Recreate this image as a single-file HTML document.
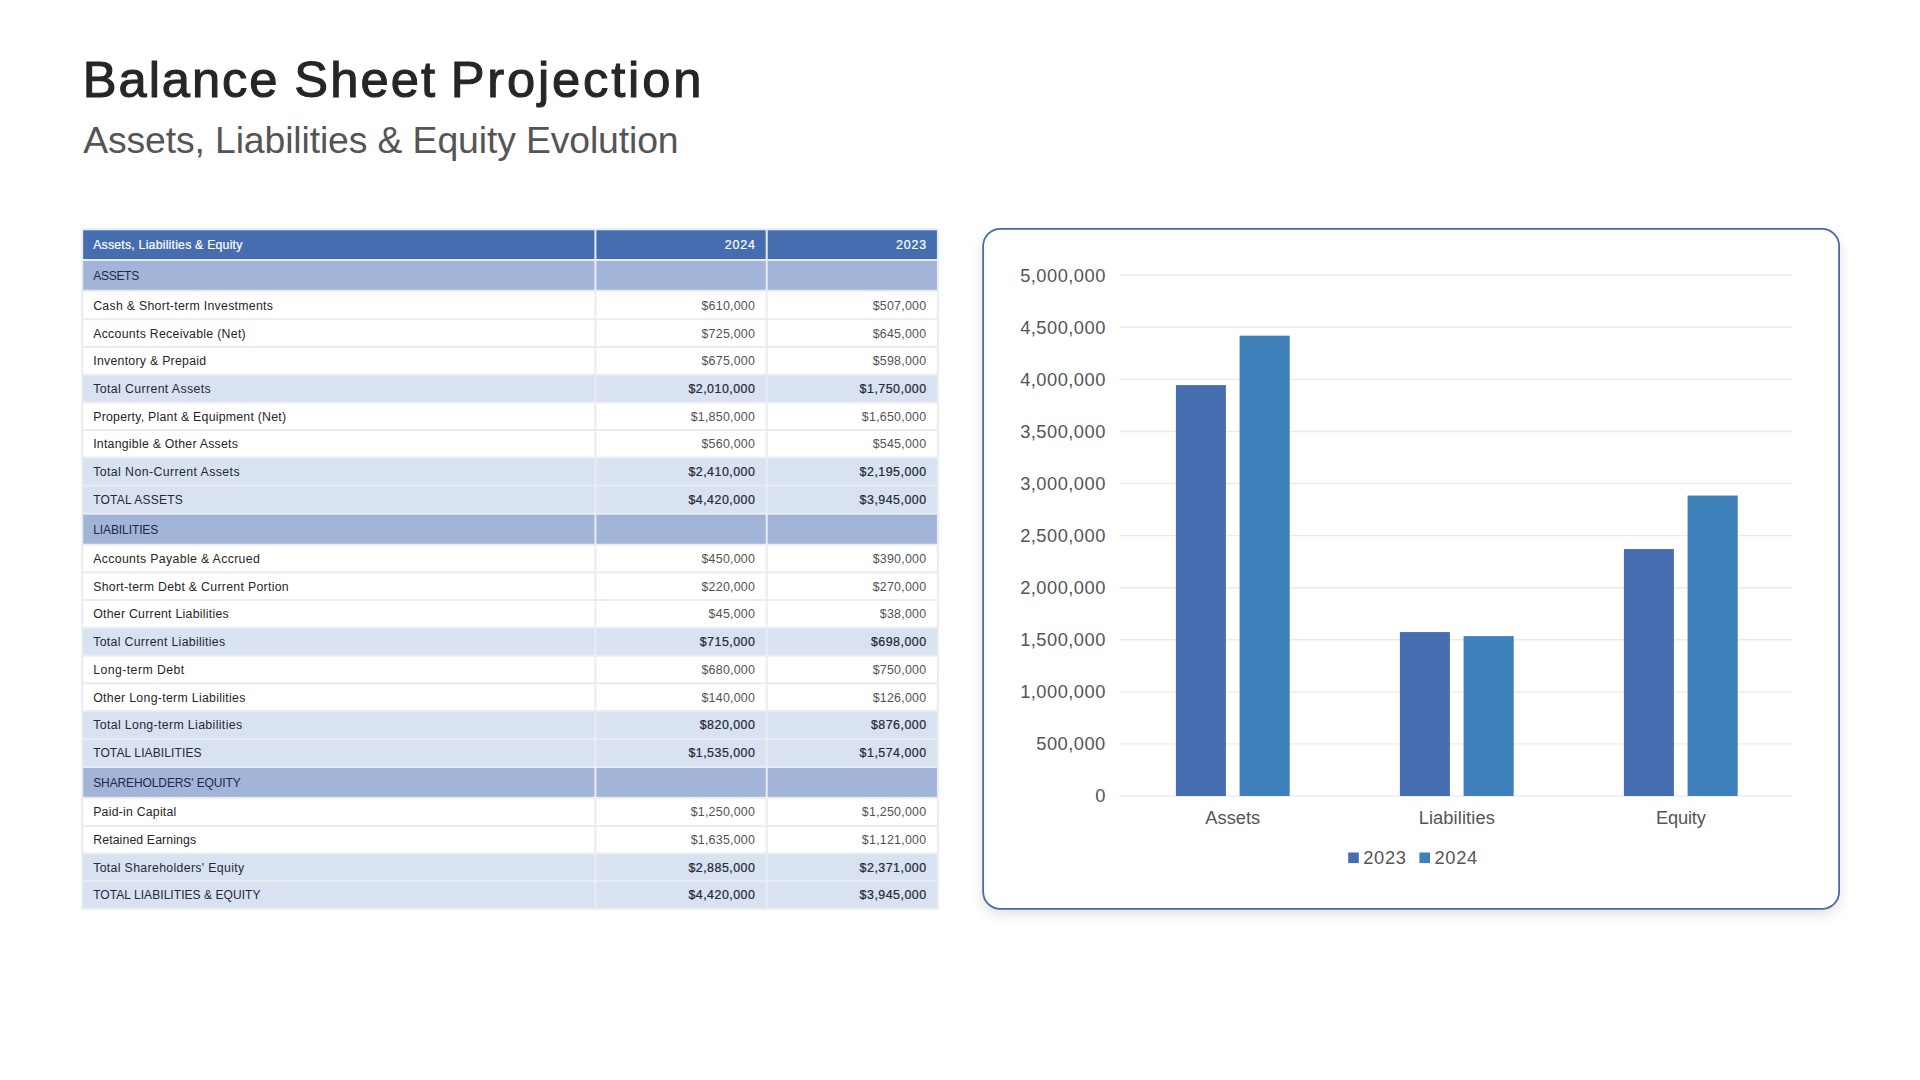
<!DOCTYPE html>
<html lang="en">
<head>
<meta charset="utf-8">
<title>Balance Sheet Projection</title>
<style>
html,body{margin:0;padding:0;background:#fff;}
body{width:1920px;height:1080px;position:relative;overflow:hidden;
  font-family:"Liberation Sans","DejaVu Sans",sans-serif;color:#262626;}
h1{position:absolute;left:82.8px;top:45.63px;margin:0;
  font-size:50.7px;line-height:68px;font-weight:400;color:#262626;letter-spacing:2.08px;
  white-space:nowrap;word-spacing:-1.3px;-webkit-text-stroke:1.1px #262626;}
h2{position:absolute;left:83.2px;top:115.54px;margin:0;
  font-size:37.4px;line-height:48px;font-weight:400;color:#555555;letter-spacing:-0.14px;white-space:nowrap;}
#grid{position:absolute;left:0;top:0;width:1920px;height:1080px;}
.row{position:absolute;left:0;width:1920px;height:20px;line-height:20px;font-size:12.6px;white-space:nowrap;}
.row span{position:absolute;top:0;}
.c1{left:93.2px;}
.c2,.c3{text-align:right;font-size:12.4px;}
.hdr{color:#fff;-webkit-text-stroke:0.2px #fff;}
.sec{color:#1c2a48;}
.reg .c1{color:#262626;}
.reg .c2,.reg .c3{color:#525252;}
.sub{color:#1f2937;}
.sub .c2,.sub .c3{font-weight:400;color:#252b38;-webkit-text-stroke:0.24px #252b38;}
.shadow{position:absolute;left:983px;top:229px;width:856px;height:680px;border-radius:17px;
  background:#fff;box-shadow:0 5px 14px rgba(0,0,0,0.13);}
.yl{position:absolute;right:814.22px;height:25px;line-height:25px;font-size:18.3px;color:#555555;text-align:right;letter-spacing:0.48px;white-space:nowrap;}
.xl{position:absolute;top:805px;width:200px;text-align:center;height:25px;line-height:25px;font-size:18.3px;color:#555555;white-space:nowrap;}
.lg{position:absolute;top:845px;height:25px;line-height:25px;font-size:18.3px;color:#555555;letter-spacing:0.72px;white-space:nowrap;}
</style>
</head>
<body>
<h1><span style="letter-spacing:1.93px">Balance</span> Sheet <span style="letter-spacing:2.8px;margin-left:-1.35px">Projection</span></h1>
<h2>Assets, Liabilities &amp; Equity Evolution</h2>
<div class="shadow"></div>
<svg id="grid" width="1920" height="1080" viewBox="0 0 1920 1080">
<g id="tbl">
<rect x="81.20" y="228.30" width="857.70" height="681.50" fill="#e9ecf2"/>
<rect x="83.20" y="230.30" width="511.20" height="28.70" fill="#456db0"/>
<rect x="596.40" y="230.30" width="169.30" height="28.70" fill="#456db0"/>
<rect x="767.70" y="230.30" width="169.20" height="28.70" fill="#456db0"/>
<rect x="83.20" y="261.00" width="511.20" height="28.80" fill="#a2b4d8"/>
<rect x="596.40" y="261.00" width="169.30" height="28.80" fill="#a2b4d8"/>
<rect x="767.70" y="261.00" width="169.20" height="28.80" fill="#a2b4d8"/>
<rect x="83.20" y="291.80" width="511.20" height="26.40" fill="#ffffff"/>
<rect x="596.40" y="291.80" width="169.30" height="26.40" fill="#ffffff"/>
<rect x="767.70" y="291.80" width="169.20" height="26.40" fill="#ffffff"/>
<rect x="83.20" y="320.20" width="511.20" height="25.80" fill="#ffffff"/>
<rect x="596.40" y="320.20" width="169.30" height="25.80" fill="#ffffff"/>
<rect x="767.70" y="320.20" width="169.20" height="25.80" fill="#ffffff"/>
<rect x="83.20" y="348.00" width="511.20" height="25.70" fill="#ffffff"/>
<rect x="596.40" y="348.00" width="169.30" height="25.70" fill="#ffffff"/>
<rect x="767.70" y="348.00" width="169.20" height="25.70" fill="#ffffff"/>
<rect x="83.20" y="375.70" width="511.20" height="25.70" fill="#d9e2f0"/>
<rect x="596.40" y="375.70" width="169.30" height="25.70" fill="#d9e2f0"/>
<rect x="767.70" y="375.70" width="169.20" height="25.70" fill="#d9e2f0"/>
<rect x="83.20" y="403.40" width="511.20" height="25.60" fill="#ffffff"/>
<rect x="596.40" y="403.40" width="169.30" height="25.60" fill="#ffffff"/>
<rect x="767.70" y="403.40" width="169.20" height="25.60" fill="#ffffff"/>
<rect x="83.20" y="431.00" width="511.20" height="25.70" fill="#ffffff"/>
<rect x="596.40" y="431.00" width="169.30" height="25.70" fill="#ffffff"/>
<rect x="767.70" y="431.00" width="169.20" height="25.70" fill="#ffffff"/>
<rect x="83.20" y="458.70" width="511.20" height="25.90" fill="#d9e2f0"/>
<rect x="596.40" y="458.70" width="169.30" height="25.90" fill="#d9e2f0"/>
<rect x="767.70" y="458.70" width="169.20" height="25.90" fill="#d9e2f0"/>
<rect x="83.20" y="486.60" width="511.20" height="26.10" fill="#d9e2f0"/>
<rect x="596.40" y="486.60" width="169.30" height="26.10" fill="#d9e2f0"/>
<rect x="767.70" y="486.60" width="169.20" height="26.10" fill="#d9e2f0"/>
<rect x="83.20" y="514.70" width="511.20" height="29.00" fill="#a2b4d8"/>
<rect x="596.40" y="514.70" width="169.30" height="29.00" fill="#a2b4d8"/>
<rect x="767.70" y="514.70" width="169.20" height="29.00" fill="#a2b4d8"/>
<rect x="83.20" y="545.70" width="511.20" height="25.60" fill="#ffffff"/>
<rect x="596.40" y="545.70" width="169.30" height="25.60" fill="#ffffff"/>
<rect x="767.70" y="545.70" width="169.20" height="25.60" fill="#ffffff"/>
<rect x="83.20" y="573.30" width="511.20" height="25.70" fill="#ffffff"/>
<rect x="596.40" y="573.30" width="169.30" height="25.70" fill="#ffffff"/>
<rect x="767.70" y="573.30" width="169.20" height="25.70" fill="#ffffff"/>
<rect x="83.20" y="601.00" width="511.20" height="25.80" fill="#ffffff"/>
<rect x="596.40" y="601.00" width="169.30" height="25.80" fill="#ffffff"/>
<rect x="767.70" y="601.00" width="169.20" height="25.80" fill="#ffffff"/>
<rect x="83.20" y="628.80" width="511.20" height="25.80" fill="#d9e2f0"/>
<rect x="596.40" y="628.80" width="169.30" height="25.80" fill="#d9e2f0"/>
<rect x="767.70" y="628.80" width="169.20" height="25.80" fill="#d9e2f0"/>
<rect x="83.20" y="656.60" width="511.20" height="25.70" fill="#ffffff"/>
<rect x="596.40" y="656.60" width="169.30" height="25.70" fill="#ffffff"/>
<rect x="767.70" y="656.60" width="169.20" height="25.70" fill="#ffffff"/>
<rect x="83.20" y="684.30" width="511.20" height="25.70" fill="#ffffff"/>
<rect x="596.40" y="684.30" width="169.30" height="25.70" fill="#ffffff"/>
<rect x="767.70" y="684.30" width="169.20" height="25.70" fill="#ffffff"/>
<rect x="83.20" y="712.00" width="511.20" height="25.90" fill="#d9e2f0"/>
<rect x="596.40" y="712.00" width="169.30" height="25.90" fill="#d9e2f0"/>
<rect x="767.70" y="712.00" width="169.20" height="25.90" fill="#d9e2f0"/>
<rect x="83.20" y="739.90" width="511.20" height="26.10" fill="#d9e2f0"/>
<rect x="596.40" y="739.90" width="169.30" height="26.10" fill="#d9e2f0"/>
<rect x="767.70" y="739.90" width="169.20" height="26.10" fill="#d9e2f0"/>
<rect x="83.20" y="768.00" width="511.20" height="28.80" fill="#a2b4d8"/>
<rect x="596.40" y="768.00" width="169.30" height="28.80" fill="#a2b4d8"/>
<rect x="767.70" y="768.00" width="169.20" height="28.80" fill="#a2b4d8"/>
<rect x="83.20" y="798.80" width="511.20" height="26.30" fill="#ffffff"/>
<rect x="596.40" y="798.80" width="169.30" height="26.30" fill="#ffffff"/>
<rect x="767.70" y="798.80" width="169.20" height="26.30" fill="#ffffff"/>
<rect x="83.20" y="827.10" width="511.20" height="25.30" fill="#ffffff"/>
<rect x="596.40" y="827.10" width="169.30" height="25.30" fill="#ffffff"/>
<rect x="767.70" y="827.10" width="169.20" height="25.30" fill="#ffffff"/>
<rect x="83.20" y="854.40" width="511.20" height="25.70" fill="#d9e2f0"/>
<rect x="596.40" y="854.40" width="169.30" height="25.70" fill="#d9e2f0"/>
<rect x="767.70" y="854.40" width="169.20" height="25.70" fill="#d9e2f0"/>
<rect x="83.20" y="882.10" width="511.20" height="25.70" fill="#d9e2f0"/>
<rect x="596.40" y="882.10" width="169.30" height="25.70" fill="#d9e2f0"/>
<rect x="767.70" y="882.10" width="169.20" height="25.70" fill="#d9e2f0"/>
</g>
<g id="chart">
<rect x="983.15" y="228.8" width="855.95" height="680.15" rx="17.2" ry="17.2" fill="#ffffff" stroke="#476ba9" stroke-width="1.8"/>
<line x1="1120.0" y1="796.00" x2="1792.0" y2="796.00" stroke="#ebebed" stroke-width="1.4"/>
<line x1="1120.0" y1="743.92" x2="1792.0" y2="743.92" stroke="#ebebed" stroke-width="1.4"/>
<line x1="1120.0" y1="691.85" x2="1792.0" y2="691.85" stroke="#ebebed" stroke-width="1.4"/>
<line x1="1120.0" y1="639.77" x2="1792.0" y2="639.77" stroke="#ebebed" stroke-width="1.4"/>
<line x1="1120.0" y1="587.70" x2="1792.0" y2="587.70" stroke="#ebebed" stroke-width="1.4"/>
<line x1="1120.0" y1="535.62" x2="1792.0" y2="535.62" stroke="#ebebed" stroke-width="1.4"/>
<line x1="1120.0" y1="483.55" x2="1792.0" y2="483.55" stroke="#ebebed" stroke-width="1.4"/>
<line x1="1120.0" y1="431.47" x2="1792.0" y2="431.47" stroke="#ebebed" stroke-width="1.4"/>
<line x1="1120.0" y1="379.40" x2="1792.0" y2="379.40" stroke="#ebebed" stroke-width="1.4"/>
<line x1="1120.0" y1="327.32" x2="1792.0" y2="327.32" stroke="#ebebed" stroke-width="1.4"/>
<line x1="1120.0" y1="275.25" x2="1792.0" y2="275.25" stroke="#ebebed" stroke-width="1.4"/>
<rect x="1175.90" y="385.13" width="50" height="410.87" fill="#456db0"/>
<rect x="1239.60" y="335.66" width="50.1" height="460.34" fill="#3e80b9"/>
<rect x="1399.90" y="632.07" width="50" height="163.93" fill="#456db0"/>
<rect x="1463.60" y="636.13" width="50.1" height="159.87" fill="#3e80b9"/>
<rect x="1623.90" y="549.06" width="50" height="246.94" fill="#456db0"/>
<rect x="1687.60" y="495.53" width="50.1" height="300.47" fill="#3e80b9"/>
<rect x="1348.2" y="852.5" width="10.6" height="10.6" fill="#456db0"/>
<rect x="1419.4" y="852.5" width="10.6" height="10.6" fill="#3e80b9"/>
</g>
</svg>
<div id="tbltext">
<div class="row hdr" style="top:235px"><span class="c1" style="font-size:12.3px;letter-spacing:0.21px">Assets, Liabilities &amp; Equity</span><span class="c2" style="right:1164.25px;letter-spacing:0.85px">2024</span><span class="c3" style="right:993.05px;letter-spacing:0.85px">2023</span></div>
<div class="row sec" style="top:266px"><span class="c1" style="font-size:12.0px;letter-spacing:-0.272px">ASSETS</span></div>
<div class="row reg" style="top:296px"><span class="c1" style="font-size:12.3px;letter-spacing:0.295px">Cash &amp; Short-term Investments</span><span class="c2" style="right:1164.85px;letter-spacing:0.25px">$610,000</span><span class="c3" style="right:993.65px;letter-spacing:0.25px">$507,000</span></div>
<div class="row reg" style="top:324px"><span class="c1" style="font-size:12.3px;letter-spacing:0.288px">Accounts Receivable (Net)</span><span class="c2" style="right:1164.85px;letter-spacing:0.25px">$725,000</span><span class="c3" style="right:993.65px;letter-spacing:0.25px">$645,000</span></div>
<div class="row reg" style="top:351px"><span class="c1" style="font-size:12.3px;letter-spacing:0.277px">Inventory &amp; Prepaid</span><span class="c2" style="right:1164.85px;letter-spacing:0.25px">$675,000</span><span class="c3" style="right:993.65px;letter-spacing:0.25px">$598,000</span></div>
<div class="row sub" style="top:379px"><span class="c1" style="font-size:12.3px;letter-spacing:0.392px">Total Current Assets</span><span class="c2" style="right:1164.60px;letter-spacing:0.5px">$2,010,000</span><span class="c3" style="right:993.40px;letter-spacing:0.5px">$1,750,000</span></div>
<div class="row reg" style="top:407px"><span class="c1" style="font-size:12.3px;letter-spacing:0.247px">Property, Plant &amp; Equipment (Net)</span><span class="c2" style="right:1164.85px;letter-spacing:0.25px">$1,850,000</span><span class="c3" style="right:993.65px;letter-spacing:0.25px">$1,650,000</span></div>
<div class="row reg" style="top:434px"><span class="c1" style="font-size:12.3px;letter-spacing:0.247px">Intangible &amp; Other Assets</span><span class="c2" style="right:1164.85px;letter-spacing:0.25px">$560,000</span><span class="c3" style="right:993.65px;letter-spacing:0.25px">$545,000</span></div>
<div class="row sub" style="top:462px"><span class="c1" style="font-size:12.3px;letter-spacing:0.422px">Total Non-Current Assets</span><span class="c2" style="right:1164.60px;letter-spacing:0.5px">$2,410,000</span><span class="c3" style="right:993.40px;letter-spacing:0.5px">$2,195,000</span></div>
<div class="row sub" style="top:490px"><span class="c1" style="font-size:12.0px;letter-spacing:0.224px">TOTAL ASSETS</span><span class="c2" style="right:1164.60px;letter-spacing:0.5px">$4,420,000</span><span class="c3" style="right:993.40px;letter-spacing:0.5px">$3,945,000</span></div>
<div class="row sec" style="top:520px"><span class="c1" style="font-size:12.0px;letter-spacing:-0.093px">LIABILITIES</span></div>
<div class="row reg" style="top:549px"><span class="c1" style="font-size:12.3px;letter-spacing:0.348px">Accounts Payable &amp; Accrued</span><span class="c2" style="right:1164.85px;letter-spacing:0.25px">$450,000</span><span class="c3" style="right:993.65px;letter-spacing:0.25px">$390,000</span></div>
<div class="row reg" style="top:577px"><span class="c1" style="font-size:12.3px;letter-spacing:0.3px">Short-term Debt &amp; Current Portion</span><span class="c2" style="right:1164.85px;letter-spacing:0.25px">$220,000</span><span class="c3" style="right:993.65px;letter-spacing:0.25px">$270,000</span></div>
<div class="row reg" style="top:604px"><span class="c1" style="font-size:12.3px;letter-spacing:0.264px">Other Current Liabilities</span><span class="c2" style="right:1164.85px;letter-spacing:0.25px">$45,000</span><span class="c3" style="right:993.65px;letter-spacing:0.25px">$38,000</span></div>
<div class="row sub" style="top:632px"><span class="c1" style="font-size:12.3px;letter-spacing:0.316px">Total Current Liabilities</span><span class="c2" style="right:1164.60px;letter-spacing:0.5px">$715,000</span><span class="c3" style="right:993.40px;letter-spacing:0.5px">$698,000</span></div>
<div class="row reg" style="top:660px"><span class="c1" style="font-size:12.3px;letter-spacing:0.428px">Long-term Debt</span><span class="c2" style="right:1164.85px;letter-spacing:0.25px">$680,000</span><span class="c3" style="right:993.65px;letter-spacing:0.25px">$750,000</span></div>
<div class="row reg" style="top:688px"><span class="c1" style="font-size:12.3px;letter-spacing:0.307px">Other Long-term Liabilities</span><span class="c2" style="right:1164.85px;letter-spacing:0.25px">$140,000</span><span class="c3" style="right:993.65px;letter-spacing:0.25px">$126,000</span></div>
<div class="row sub" style="top:715px"><span class="c1" style="font-size:12.3px;letter-spacing:0.364px">Total Long-term Liabilities</span><span class="c2" style="right:1164.60px;letter-spacing:0.5px">$820,000</span><span class="c3" style="right:993.40px;letter-spacing:0.5px">$876,000</span></div>
<div class="row sub" style="top:743px"><span class="c1" style="font-size:12.0px;letter-spacing:0.12px">TOTAL LIABILITIES</span><span class="c2" style="right:1164.60px;letter-spacing:0.5px">$1,535,000</span><span class="c3" style="right:993.40px;letter-spacing:0.5px">$1,574,000</span></div>
<div class="row sec" style="top:773px"><span class="c1" style="font-size:12.0px;letter-spacing:-0.108px">SHAREHOLDERS' EQUITY</span></div>
<div class="row reg" style="top:802px"><span class="c1" style="font-size:12.3px;letter-spacing:0.223px">Paid-in Capital</span><span class="c2" style="right:1164.85px;letter-spacing:0.25px">$1,250,000</span><span class="c3" style="right:993.65px;letter-spacing:0.25px">$1,250,000</span></div>
<div class="row reg" style="top:830px"><span class="c1" style="font-size:12.3px;letter-spacing:0.113px">Retained Earnings</span><span class="c2" style="right:1164.85px;letter-spacing:0.25px">$1,635,000</span><span class="c3" style="right:993.65px;letter-spacing:0.25px">$1,121,000</span></div>
<div class="row sub" style="top:858px"><span class="c1" style="font-size:12.3px;letter-spacing:0.341px">Total Shareholders' Equity</span><span class="c2" style="right:1164.60px;letter-spacing:0.5px">$2,885,000</span><span class="c3" style="right:993.40px;letter-spacing:0.5px">$2,371,000</span></div>
<div class="row sub" style="top:885px"><span class="c1" style="font-size:12.0px;letter-spacing:0.059px">TOTAL LIABILITIES &amp; EQUITY</span><span class="c2" style="right:1164.60px;letter-spacing:0.5px">$4,420,000</span><span class="c3" style="right:993.40px;letter-spacing:0.5px">$3,945,000</span></div>
</div>
<div id="charttext">
<div class="yl" style="top:783px">0</div>
<div class="yl" style="top:731px">500,000</div>
<div class="yl" style="top:679px">1,000,000</div>
<div class="yl" style="top:627px">1,500,000</div>
<div class="yl" style="top:575px">2,000,000</div>
<div class="yl" style="top:523px">2,500,000</div>
<div class="yl" style="top:471px">3,000,000</div>
<div class="yl" style="top:419px">3,500,000</div>
<div class="yl" style="top:367px">4,000,000</div>
<div class="yl" style="top:315px">4,500,000</div>
<div class="yl" style="top:263px">5,000,000</div>
<div class="xl" style="left:1132.80px;letter-spacing:0.0px">Assets</div>
<div class="xl" style="left:1356.80px;letter-spacing:0.1px">Liabilities</div>
<div class="xl" style="left:1580.80px;letter-spacing:-0.17px">Equity</div>
<div class="lg" style="left:1363.2px">2023</div>
<div class="lg" style="left:1434.4px">2024</div>
</div>
</body>
</html>
